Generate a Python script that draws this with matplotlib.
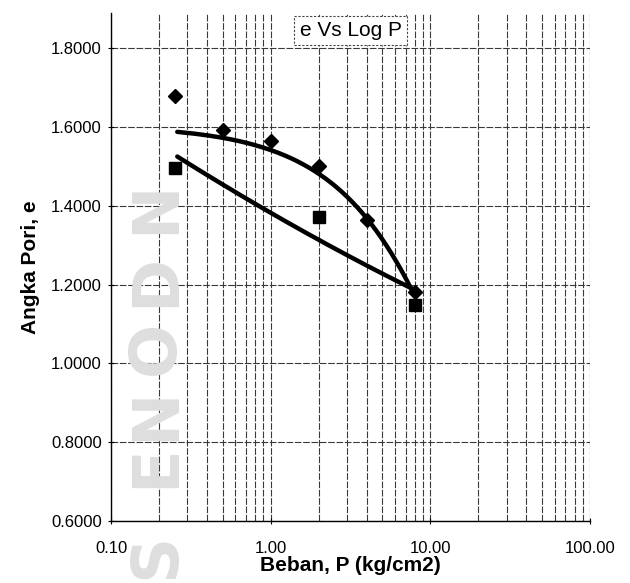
import numpy as np
import matplotlib
matplotlib.use("Agg")
import matplotlib.pyplot as plt
from matplotlib.ticker import FixedLocator, NullFormatter, FuncFormatter

plt.rcParams['font.family'] = ['Liberation Sans', 'DejaVu Sans']

# measured points
diamond_p = [0.25, 0.5, 1.0, 2.0, 4.0, 8.0]
diamond_e = [1.678, 1.592, 1.564, 1.501, 1.364, 1.182]
square_p = [0.25, 2.0, 8.0]
square_e = [1.496, 1.371, 1.149]

# trend curves
upper_curve_p = [0.26, 0.53, 1.05, 2.1, 3.16, 4.2, 5.62, 7.66]
upper_curve_e = [1.585, 1.575, 1.541, 1.471, 1.414, 1.364, 1.28, 1.187]
lower_curve_p = [0.26, 0.75, 1.10, 2.05, 4.22, 7.14, 8.2]
lower_curve_e = [1.526, 1.414, 1.368, 1.313, 1.246, 1.20, 1.18]

x_ticks = [0.1, 1, 10, 100]
y_ticks = [0.6, 0.8, 1.0, 1.2, 1.4, 1.6, 1.8]

# faint scanned watermark letters
wm_letters = ['N', 'D', 'O', 'N', 'E', 'S']
wm_y_px = [207, 280, 348, 414, 466, 556]

fig = plt.figure(figsize=(6.3, 5.83), dpi=100)

for ch, yp in zip(wm_letters, wm_y_px):
    fig.text(156/630, 1 - yp/583, ch, rotation=90, fontsize=46,
             fontweight='bold', color='#dedede', ha='center', va='center',
             family='DejaVu Sans', zorder=0)

ax = fig.add_axes([111/630, 62/583, 479/630, 508/583])
ax.patch.set_alpha(0)
ax.set_xscale('log')
ax.set_xlim(0.1, 100)
ax.set_ylim(0.6, 1.89)

# grid
minor = [m * 10.0**d for d in range(-1, 2) for m in range(2, 10)]
ax.xaxis.set_major_locator(FixedLocator(x_ticks))
ax.xaxis.set_minor_locator(FixedLocator(minor))
ax.xaxis.set_minor_formatter(NullFormatter())
ax.xaxis.set_major_formatter(FuncFormatter(lambda v, p: f"{v:.2f}"))
ax.yaxis.set_major_locator(FixedLocator(y_ticks))
ax.yaxis.set_major_formatter(FuncFormatter(lambda v, p: f"{v:.4f}"))
gs = dict(color='#3a3a3a', linewidth=0.8, linestyle=(0, (6, 1.5)))
ax.grid(True, which='major', axis='both', **gs)
ax.grid(True, which='minor', axis='x', **gs)
ax.axvline(100, color='#555555', linewidth=0.8, linestyle=(0, (2, 3)))

for s in ['top', 'right']:
    ax.spines[s].set_visible(False)
for s in ['left', 'bottom']:
    ax.spines[s].set_color('black')
    ax.spines[s].set_linewidth(1.0)

ax.tick_params(axis='both', which='major', direction='inout', length=5,
               labelsize=12, colors='black')
ax.tick_params(axis='x', which='major', pad=12)
ax.tick_params(axis='x', which='minor', length=0)
ax.tick_params(axis='y', pad=4)

# curves
up = np.polyfit(upper_curve_p, upper_curve_e, 2)
pu = np.linspace(min(upper_curve_p), max(upper_curve_p), 200)
ax.plot(pu, np.polyval(up, pu), color='black', linewidth=3.2, solid_capstyle='round', zorder=3)
lo = np.polyfit(np.log10(lower_curve_p), lower_curve_e, 2)
pl = np.logspace(np.log10(min(lower_curve_p)), np.log10(max(lower_curve_p)), 200)
ax.plot(pl, np.polyval(lo, np.log10(pl)), color='black', linewidth=3.2, solid_capstyle='round', zorder=3)

ax.plot(diamond_p, diamond_e, linestyle='none', marker='D', markersize=7.5,
        color='black', zorder=4)
ax.plot(square_p, square_e, linestyle='none', marker='s', markersize=8.5,
        color='black', zorder=4)

ax.set_xlabel('Beban, P (kg/cm2)', fontsize=15, fontweight='bold', labelpad=0)
ax.set_ylabel('Angka Pori, e', fontsize=15, fontweight='bold', labelpad=8)

ax.text(0.5, 0.965, 'e Vs Log P', transform=ax.transAxes, fontsize=15,
        ha='center', va='center',
        bbox=dict(boxstyle='square,pad=0.25', facecolor='white',
                  edgecolor='#444444', linestyle=(0, (2, 1.5)), linewidth=0.8),
        zorder=5)

fig.savefig('out.png', dpi=100)
